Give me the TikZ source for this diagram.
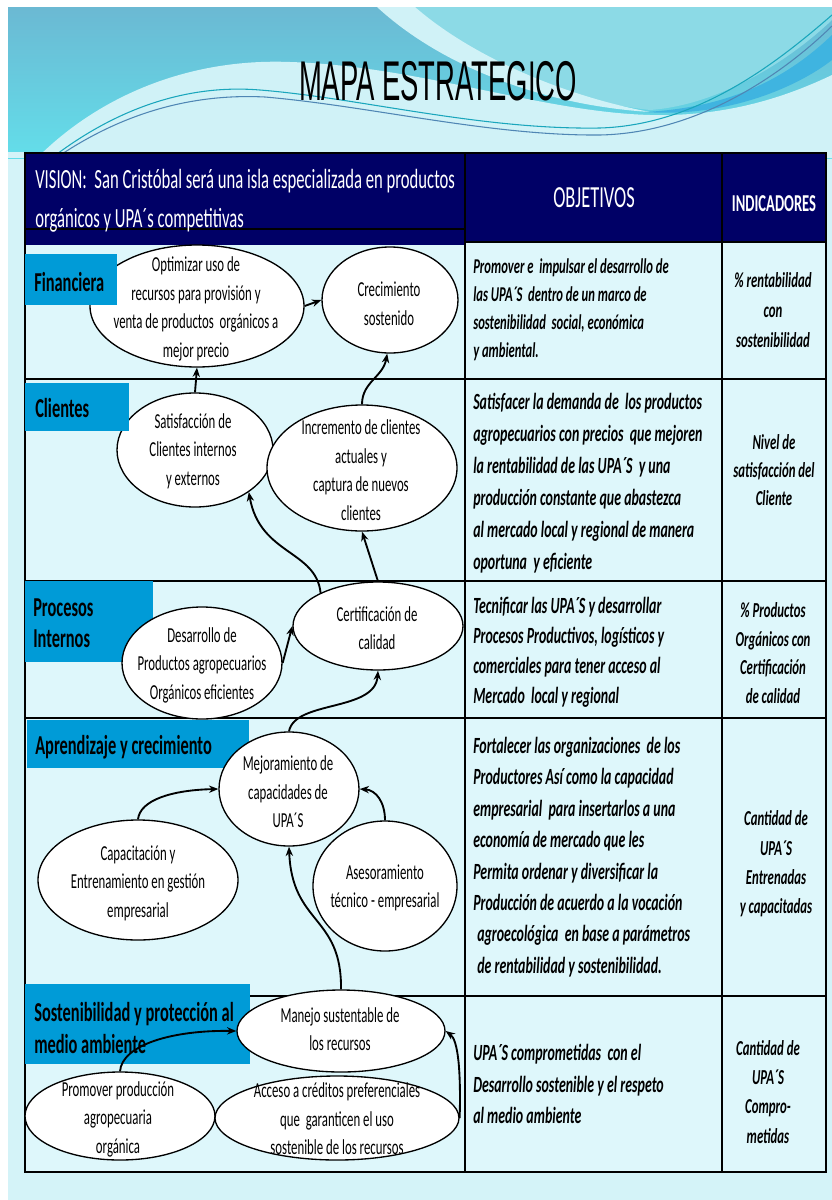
\documentclass[tikz,border=0pt]{standalone}
\usepackage{fontspec}
\setmainfont{Carlito}[FakeStretch=0.6]
\newfontfamily\titlefont{Liberation Sans}[FakeStretch=0.49]
\usetikzlibrary{shapes.geometric,arrows.meta}
\definecolor{navy}{HTML}{000066}
\definecolor{lbl}{HTML}{009BD7}
\definecolor{bgc}{HTML}{D4F3F8}
\definecolor{cellc}{HTML}{DEF7FB}
\definecolor{bantop}{HTML}{6BB9D3}
\definecolor{banbot}{HTML}{63DEEA}
\definecolor{banlight}{HTML}{8CDAE6}
\definecolor{pale}{HTML}{D0F2F7}
\definecolor{bandblue}{HTML}{3FB4E0}
\definecolor{wlineA}{HTML}{1AA6BC}
\definecolor{wlineB}{HTML}{4F86B4}
\tikzset{
  ell/.style={draw=black,line width=1pt,fill=white,ellipse,inner sep=0pt},
  etxt/.style={align=center,inner sep=0pt,font=\fontsize{16pt}{21.4pt}\selectfont},
  objtxt/.style={align=left,anchor=west,inner sep=0pt},
  indtxt/.style={align=center,inner sep=0pt},
  labtxt/.style={align=left,anchor=west,inner sep=0pt,font=\bfseries\fontsize{20.5pt}{23.3pt}\selectfont},
  arr/.style={-{Stealth[length=7pt,width=5.5pt]},line width=1.4pt,black},
  gridline/.style={line width=1.5pt,black},
}
\begin{document}
\begin{tikzpicture}[x=0.75pt,y=-0.75pt]
\useasboundingbox (0,0) rectangle (832,1200);
\fill[white] (0,0) rectangle (832,1200);
\fill[bgc] (8,7) rectangle (832,1200);
% banner
\shade[top color=bantop,bottom color=banbot] (8,7) rectangle (832,158);
\fill[banlight] (400,7) .. controls (460,60) and (560,100) .. (650,110) .. controls (720,105) and (790,60) .. (832,20) -- (832,7) -- cycle;
\fill[pale] (377,7) .. controls (440,65) and (540,105) .. (650,112) .. controls (560,95) and (470,55) .. (415,7) -- cycle;
\fill[bandblue] (832,35) .. controls (780,85) and (720,108) .. (645,112) .. controls (730,118) and (800,85) .. (832,60) -- cycle;
\fill[pale] (37,158) .. controls (100,95) and (190,58) .. (290,62) .. controls (420,66) and (540,112) .. (650,115) .. controls (730,117) and (790,95) .. (832,75) -- (832,158) -- cycle;
\fill[bgc] (8,152) rectangle (832,158);
\draw[wlineA,line width=0.8pt] (57,154) .. controls (130,100) and (200,85) .. (260,90) .. controls (360,98) and (480,130) .. (600,128) .. controls (700,125) and (780,60) .. (832,15);
\draw[wlineB,line width=0.8pt] (62,154) .. controls (135,106) and (205,94) .. (265,97) .. controls (370,106) and (490,136) .. (600,135) .. controls (700,133) and (785,72) .. (832,26);
% title
\node[font=\titlefont\fontsize{42pt}{42pt}\selectfont,anchor=base,inner sep=0pt] (title) at (438,100) {MAPA ESTRATEGICO};
% table
\fill[cellc] (25,153) rectangle (826,1172);
\fill[navy] (25,154) rectangle (465,245);
\fill[navy] (465,153) rectangle (826,242);
\draw[gridline] (25,153) rectangle (826,1172);
\draw[gridline] (465,153) -- (465,1172);
\draw[gridline] (722,153) -- (722,1172);
\draw[gridline] (25,229) -- (465,229);
\draw[gridline] (465,242) -- (826,242);
\draw[gridline] (25,379) -- (826,379);
\draw[gridline] (25,581) -- (826,581);
\draw[gridline] (25,718) -- (826,718);
\draw[gridline] (25,996) -- (826,996);
% header texts
\node[anchor=west,align=left,inner sep=0pt,text=white,font=\fontsize{20.8pt}{29.5pt}\selectfont] (vision) at (35,201) {VISION:~ San Cristóbal será una isla especializada en productos\\orgánicos y UPA´s competitivas};
\node[anchor=base,inner sep=0pt,text=white,font=\fontsize{23pt}{23pt}\selectfont] (objh) at (594,207) {OBJETIVOS};
\node[anchor=base,inner sep=0pt,text=white,font=\bfseries\fontsize{18.2pt}{18.2pt}\selectfont] (indh) at (774,211) {INDICADORES};
% label boxes drawn beneath the ellipses
\fill[lbl] (25,581) rectangle (153,662);
\fill[lbl] (27,720) rectangle (249,768);
\fill[lbl] (25,984) rectangle (250,1064);
\node[labtxt] (prol) at (33,623) {Procesos\\Internos};
\node[labtxt] (aprl) at (35,747) {Aprendizaje y crecimiento};
\node[labtxt] (sosl) at (34,1028) {Sostenibilidad y protección al\\medio ambiente};
% ellipses
\node[ell,minimum width=160.5pt,minimum height=91.5pt] (opt) at (197,306) {};
\node[ell,minimum width=102pt,minimum height=79.5pt] (crec) at (390,300) {};
\node[ell,minimum width=117pt,minimum height=85.5pt] (sat) at (195,450) {};
\node[ell,minimum width=142.5pt,minimum height=94.5pt] (inc) at (362,468) {};
\node[ell,minimum width=127.5pt,minimum height=66pt] (cert) at (378,626) {};
\node[ell,minimum width=120pt,minimum height=84pt] (des) at (202,663) {};
\node[ell,minimum width=105pt,minimum height=85.5pt] (mej) at (289,789) {};
\node[ell,minimum width=150pt,minimum height=90pt] (cap) at (138,880) {};
\node[ell,minimum width=108pt,minimum height=97.5pt] (ase) at (385,886) {};
\node[ell,minimum width=156pt,minimum height=61.5pt] (man) at (341,1031) {};
\node[ell,minimum width=142.5pt,minimum height=66pt] (prom) at (120,1116) {};
\node[ell,minimum width=183pt,minimum height=63pt] (acc) at (337,1118) {};
% label boxes drawn above the ellipses
\fill[lbl] (25,254) rectangle (117,305);
\fill[lbl] (25,383) rectangle (129,431);
\node[labtxt] (finl) at (34,282) {Financiera};
\node[labtxt] (clil) at (35,408) {Clientes};
% arrows
\draw[arr] (opt.east) -- (crec.west);
\draw[arr] (sat.north) -- (opt.south);
\draw[arr] (inc.north) .. controls (362,382) and (383,377) .. (crec.-93);
\draw[arr] (cert.150) .. controls (316,550) and (260,555) .. (sat.-38);
\draw[arr] (cert.north) -- (inc.south);
\draw[arr] (des.east) -- (cert.west);
\draw[arr] (mej.north) .. controls (295,700) and (375,712) .. (cert.south);
\draw[arr] (cap.north) .. controls (140,800) and (172,790) .. (mej.west);
\draw[arr] (ase.north) .. controls (385,802) and (376,790) .. (mej.east);
\draw[arr] (man.north) .. controls (342,915) and (292,925) .. (mej.south);
\draw[arr] (prom.north) .. controls (122,1045) and (172,1030) .. (man.west);
\draw[arr] (acc.east) .. controls (461,1070) and (458,1040) .. (man.east);
% ellipse texts
\node[etxt] (optt) at (196,309) {Optimizar uso de\\recursos para provisión y\\venta de productos~ orgánicos a\\mejor precio};
\node[etxt] (crect) at (389,304) {Crecimiento\\sostenido};
\node[etxt] (satt) at (193,451) {Satisfacción de\\Clientes internos\\y externos};
\node[etxt] (inct) at (361,470) {Incremento de clientes\\actuales y\\captura de nuevos\\clientes};
\node[etxt] (certt) at (377,628) {Certificación de\\calidad};
\node[etxt] (dest) at (202,665) {Desarrollo de\\Productos agropecuarios\\Orgánicos eficientes};
\node[etxt] (mejt) at (288,792) {Mejoramiento de\\capacidades de\\UPA´S};
\node[etxt] (capt) at (138,883) {Capacitación y\\Entrenamiento en gestión\\empresarial};
\node[etxt] (aset) at (385,888) {Asesoramiento\\técnico - empresarial};
\node[etxt] (mant) at (340,1029) {Manejo sustentable de\\los recursos};
\node[etxt] (promt) at (118,1119) {Promover producción\\agropecuaria\\orgánica};
\node[etxt] (acct) at (337,1119) {Acceso a créditos preferenciales\\que~ garanticen el uso\\sostenible de los recursos};
% objectives
\node[objtxt,font=\bfseries\itshape\fontsize{15.8pt}{21pt}\selectfont] (o1) at (473,310) {Promover e~ impulsar el desarrollo de\\las UPA´S~ dentro de un marco de\\sostenibilidad~ social, económica\\y ambiental.};
\node[objtxt,font=\bfseries\itshape\fontsize{17.4pt}{24pt}\selectfont] (o2) at (473,483) {Satisfacer la demanda de~ los productos\\agropecuarios con precios~ que mejoren\\la rentabilidad de las UPA´S~ y una\\producción constante que abastezca\\al mercado local y regional de manera\\oportuna~ y eficiente};
\node[objtxt,font=\bfseries\itshape\fontsize{17.4pt}{22.5pt}\selectfont] (o3) at (473,652) {Tecnificar las UPA´S y desarrollar\\Procesos Productivos, logísticos y\\comerciales para tener acceso al\\Mercado~ local y regional};
\node[objtxt,font=\bfseries\itshape\fontsize{17.4pt}{23.6pt}\selectfont] (o4) at (473,857) {Fortalecer las organizaciones~ de los\\Productores Así como la capacidad\\empresarial~ para insertarlos a una\\economía de mercado que les\\Permita ordenar y diversificar la\\Producción de acuerdo a la vocación\\\hspace*{3pt}agroecológica~ en base a parámetros\\\hspace*{3pt}de rentabilidad y sostenibilidad.};
\node[objtxt,font=\bfseries\itshape\fontsize{17.4pt}{23.6pt}\selectfont] (o5) at (473,1084) {UPA´S comprometidas~ con el\\Desarrollo sostenible y el respeto\\al medio ambiente};
% indicators
\node[indtxt,font=\bfseries\itshape\fontsize{16pt}{22.5pt}\selectfont] (i1) at (773,310) {\% rentabilidad\\con\\sostenibilidad};
\node[indtxt,font=\bfseries\itshape\fontsize{16pt}{21pt}\selectfont] (i2) at (774,470) {Nivel de\\satisfacción del\\Cliente};
\node[indtxt,font=\bfseries\itshape\fontsize{16pt}{21.4pt}\selectfont] (i3) at (773,653) {\% Productos\\Orgánicos con\\Certificación\\de calidad};
\node[indtxt,font=\bfseries\itshape\fontsize{16pt}{22pt}\selectfont] (i4) at (776,864) {Cantidad de\\UPA´S\\Entrenadas\\y capacitadas};
\node[indtxt,font=\bfseries\itshape\fontsize{16pt}{21.8pt}\selectfont] (i5) at (768,1092) {Cantidad de\\UPA´S\\Compro-\\metidas};
\end{tikzpicture}
\end{document}
